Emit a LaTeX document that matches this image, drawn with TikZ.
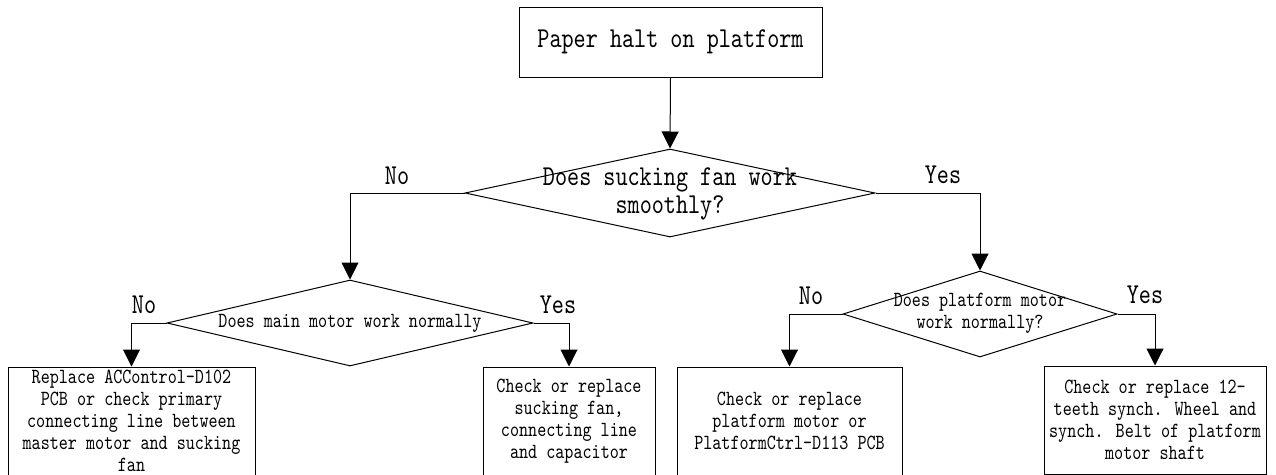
\documentclass[tikz,border=0pt]{standalone}
\usepackage{fontspec}
\setmainfont{Liberation Serif}
\newfontfamily\simfont{lmmono10-regular}[Extension=.otf, FakeStretch=0.8]
\newcommand\smallsim{\simfont\fontsize{21.6}{22}\selectfont}
\newcommand\bigsim{\simfont\fontsize{28.8}{28}\selectfont}
\usetikzlibrary{shapes.geometric,arrows.meta}
\begin{document}
\begin{tikzpicture}[x=1pt,y=-1pt,line width=1pt,
  stepbox/.style={draw, rectangle, inner sep=0pt, align=center, font=\smallsim},
  topbox/.style={draw, rectangle, inner sep=0pt, align=center, font=\bigsim},
  dia/.style={draw, diamond, inner sep=0pt},
  bigtxt/.style={font=\bigsim, align=center, inner sep=0pt},
  smalltxt/.style={font=\smallsim, align=center, inner sep=0pt},
  arr/.style={-{Triangle[length=17pt,width=17pt]}}]
\useasboundingbox (0,0) rectangle (1276,474);
\clip (0,0) rectangle (1276,474);
% start
\node[topbox, minimum width=303pt, minimum height=70pt] (start) at (670.5,42) {Paper halt on platform};
% decisions
\node[dia, minimum width=410pt, minimum height=88pt] (d1) at (670,193) {};
\node[bigtxt] (t1) at (670,194) {Does sucking fan work\\smoothly?};
\node[dia, minimum width=366pt, minimum height=86pt] (d2) at (350,323) {};
\node[smalltxt] (t2) at (350,323) {Does main motor work normally};
\node[dia, minimum width=274pt, minimum height=86pt] (d3) at (980,314) {};
\node[smalltxt] (t3) at (980,313) {Does platform motor\\work normally?};
% actions
\node[stepbox, minimum width=247pt, minimum height=108pt] (b1) at (131.5,421) {Replace ACControl-D102\\PCB or check primary\\connecting line between\\master motor and sucking\\fan};
\node[stepbox, minimum width=172pt, minimum height=108pt] (b2) at (569,421) {Check or replace\\sucking fan,\\connecting line\\and capacitor};
\node[stepbox, minimum width=225pt, minimum height=108pt] (b3) at (789.5,421) {Check or replace\\platform motor or\\PlatformCtrl-D113 PCB};
\node[stepbox, minimum width=222pt, minimum height=108pt] (b4) at (1155,420) {Check or replace 12-\\teeth synch. Wheel and\\synch. Belt of platform\\motor shaft};
% connectors
\draw[arr] (start.south) -- (d1.north);
\draw[arr] (d1.west) -| (d2.north);
\draw[arr] (d1.east) -| (d3.north);
\draw[arr] (d2.west) -| (b1.north);
\draw[arr] (d2.east) -| (b2.north);
\draw[arr] (d3.west) -| (b3.north);
\draw[arr] (d3.east) -| (b4.north);
% labels
\node[bigtxt] (n1) at (397,176) {No};
\node[bigtxt] (y1) at (943,175) {Yes};
\node[bigtxt] (n2) at (144,305) {No};
\node[bigtxt] (y2) at (558,305) {Yes};
\node[bigtxt] (n3) at (811,296) {No};
\node[bigtxt] (y3) at (1145,295) {Yes};
\end{tikzpicture}
\end{document}
